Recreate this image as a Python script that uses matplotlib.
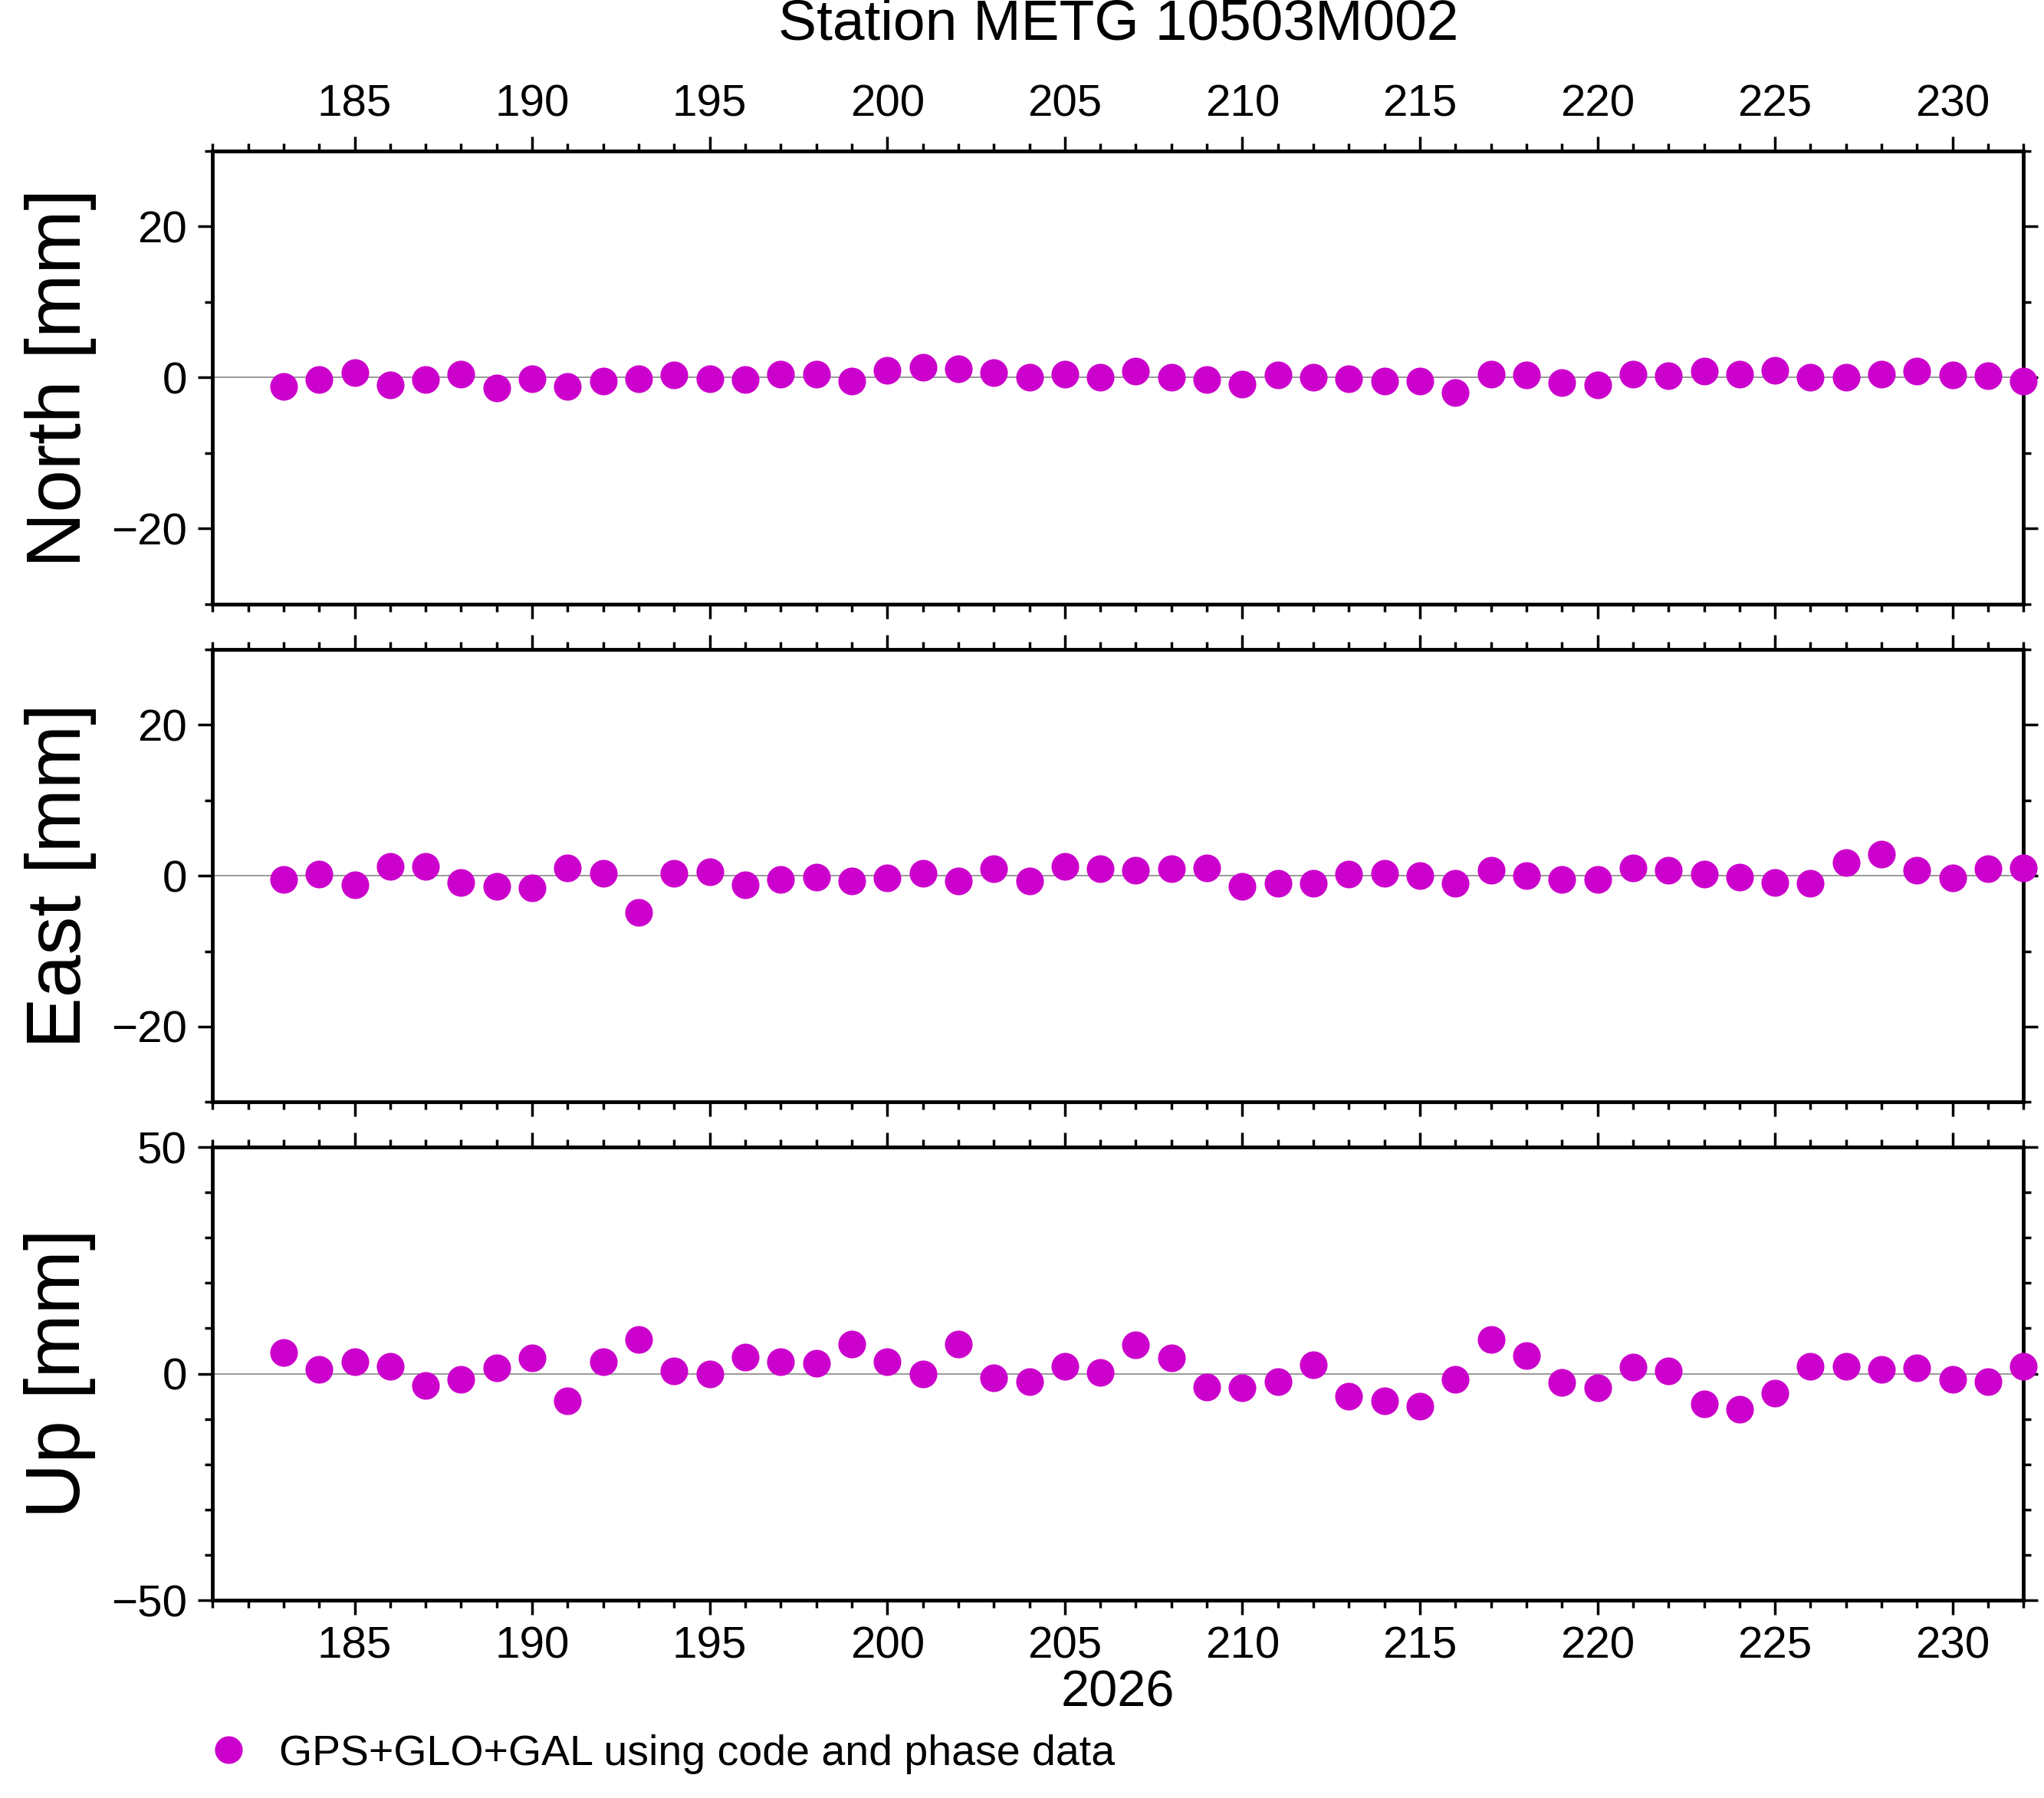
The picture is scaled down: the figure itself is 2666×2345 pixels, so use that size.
import matplotlib
matplotlib.use("Agg")
import matplotlib.pyplot as plt
from matplotlib.ticker import MultipleLocator
from matplotlib.lines import Line2D

plt.rcParams['font.family'] = ['Liberation Sans', 'DejaVu Sans']

days = list(range(183, 233))
north = [-1.2,-0.3,0.7,-1,-0.3,0.5,-1.4,-0.2,-1.2,-0.5,-0.2,0.3,-0.2,-0.3,0.5,0.5,-0.5,1,1.4,1.2,
         0.7,0,0.5,0,0.9,0,-0.3,-0.9,0.3,0,-0.2,-0.5,-0.5,-2,0.5,0.3,-0.7,-1,0.5,0.2,
         0.9,0.5,1,0,0,0.5,0.9,0.3,0.2,-0.5]
east = [-0.5,0.2,-1.2,1.2,1.2,-0.9,-1.4,-1.6,1,0.3,-4.9,0.3,0.5,-1.2,-0.5,-0.2,-0.7,-0.3,0.3,-0.7,
        0.9,-0.7,1.2,0.9,0.7,0.9,1,-1.4,-1,-1,0.2,0.3,0,-1,0.7,0,-0.5,-0.5,1,0.7,
        0.2,-0.2,-0.9,-1,1.7,2.8,0.7,-0.3,0.9,1]
up = [4.6,0.9,2.6,1.7,-2.6,-1.2,1.2,3.5,-6,2.6,7.5,0.6,0,3.7,2.6,2.3,6.6,2.6,0,6.6,
      -0.9,-1.7,1.7,0.3,6.3,3.5,-2.9,-3.2,-1.7,2,-4.9,-6,-7.2,-1.2,7.5,4,-2,-3.2,1.4,0.6,
      -6.6,-7.8,-4.3,1.7,1.7,0.9,1.2,-1.2,-1.7,1.7]

labels = ['North [mm]', 'East [mm]', 'Up [mm]']
series = [north, east, up]
ylims = [(-30, 30), (-30, 30), (-50, 50)]
ymaj = [20, 20, 50]
color = '#CC00CC'

fig = plt.figure(figsize=(26.66, 23.45), dpi=100)
L, R = 0.104, 0.990
boxes = [(0.664, 0.916), (0.387, 0.639), (0.110, 0.362)]
for i, (b, t) in enumerate(boxes):
    ax = fig.add_axes([L, b, R - L, t - b])
    ax.axhline(0, color='#888888', lw=1.2, zorder=1)
    ax.plot(days, series[i], 'o', color=color, ms=26, mec='none', zorder=3, clip_on=False)
    ax.set_xlim(181, 232)
    ax.set_ylim(*ylims[i])
    ax.xaxis.set_major_locator(MultipleLocator(5))
    ax.xaxis.set_minor_locator(MultipleLocator(1))
    ax.yaxis.set_major_locator(MultipleLocator(ymaj[i]))
    ax.yaxis.set_minor_locator(MultipleLocator(10))
    ax.tick_params(which='both', direction='out', top=True, right=True, width=2.5,
                   labelsize=42, pad=10)
    ax.tick_params(which='major', length=14)
    ax.tick_params(which='minor', length=7)
    ax.tick_params(axis='x', labelbottom=(i == 2), labeltop=(i == 0))
    for s in ax.spines.values():
        s.set_linewidth(3.5)
    ax.set_ylabel(labels[i], fontsize=72, labelpad=14)
    if i == 0:
        ax.set_title('Station METG 10503M002', fontsize=54, pad=105)
    if i == 2:
        ax.set_xlabel('2026', fontsize=48, labelpad=2)

fig.legend([Line2D([], [], ls='none', marker='o', color=color, ms=26, mec='none')],
           ['GPS+GLO+GAL using code and phase data'], loc='lower left',
           bbox_to_anchor=(0.072, -0.008), frameon=False, fontsize=40, handletextpad=0.2)
fig.savefig('out.png', dpi=100)
